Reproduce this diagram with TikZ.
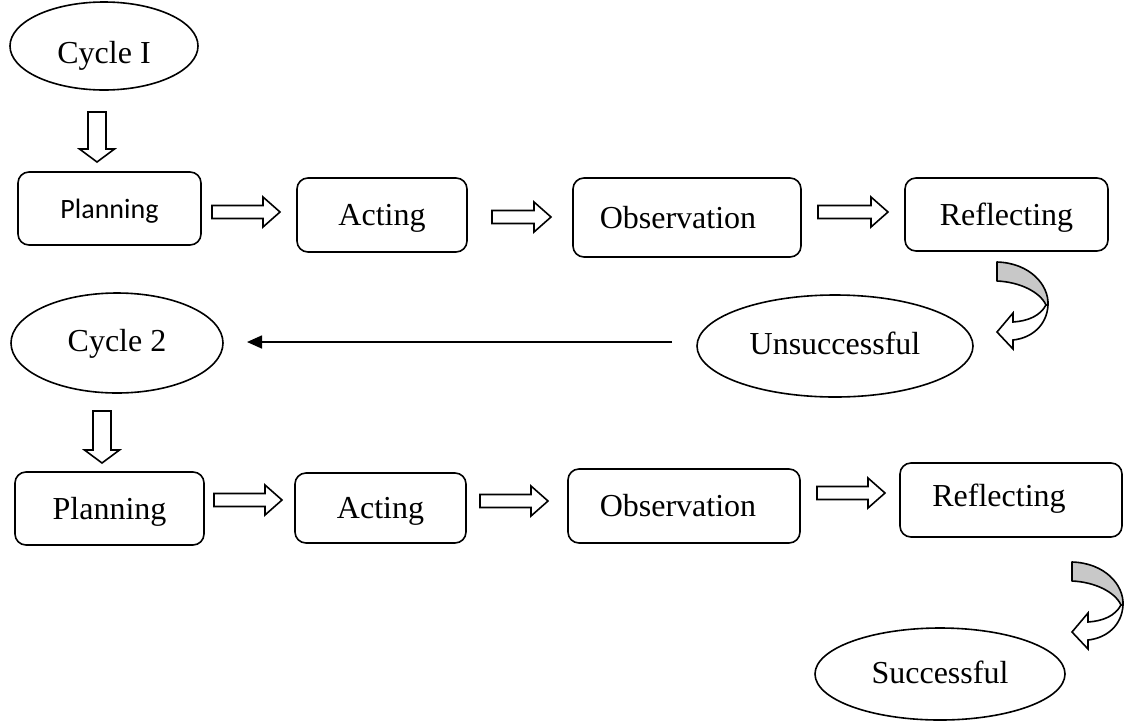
\documentclass[tikz,border=0pt]{standalone}
\usepackage{fontspec}
\setmainfont{Liberation Serif}
\newfontfamily\calfont{Carlito}
\usetikzlibrary{shapes.geometric,arrows.meta}
\definecolor{band}{RGB}{200,200,200}
\newcommand\rblk[3]{\draw[blk] (#1,#3-6.5) -- (#2-17,#3-6.5) -- (#2-17,#3-15) -- (#2,#3) -- (#2-17,#3+15) -- (#2-17,#3+6.5) -- (#1,#3+6.5) -- cycle;}
\newcommand\dblk[3]{\draw[blk] (#1-9,#2) -- (#1+9,#2) -- (#1+9,#3-13) -- (#1+17.5,#3-13) -- (#1,#3) -- (#1-17.5,#3-13) -- (#1-9,#3-13) -- cycle;}
\begin{document}
\begin{tikzpicture}[x=1pt,y=-1pt,
  every node/.style={inner sep=0pt, outer sep=0pt},
  txt/.style={font=\fontsize{32}{38}\selectfont, text depth=0pt, text height=21pt},
  rbox/.style={draw, line width=1.6pt, rounded corners=11pt, txt},
  ell/.style={draw, ellipse, line width=1.6pt, txt},
  blk/.style={draw, line width=1.6pt, fill=white, line join=miter},
  curv/.pic={
    \fill[band, draw=black, line width=1.6pt, line join=round]
      (0,0) .. controls (33,1) and (52,23) .. (51,43) -- (49,43)
      .. controls (43,30) and (23,20) .. (0,19) -- cycle;
    \draw[fill=white, line width=1.6pt, line join=miter]
      (49,43) .. controls (43,54) and (31,59) .. (16,60) -- (16,51) -- (0,70)
      -- (16,87) -- (16,78) .. controls (35,76) and (50,63) .. (51,43) -- cycle;
  }
]
\useasboundingbox (0,0) rectangle (1124,721);

% row 1
\node[ell, minimum width=188pt, minimum height=88pt, text height=34pt] (c1) at (104,46) {Cycle I};
\node[rbox, minimum width=183pt, minimum height=73pt, font=\calfont\fontsize{28}{34}\selectfont, text height=20pt] (p1) at (109.5,208.5) {Planning};
\node[rbox, minimum width=170pt, minimum height=74pt] (a1) at (382,215) {Acting};
\node[rbox, minimum width=228pt, minimum height=79pt] (o1) at (687,217.5) {Observation\kern18pt};
\node[rbox, minimum width=203pt, minimum height=73pt] (r1) at (1006.5,214.5) {Reflecting};

\dblk{97}{112}{162}
\rblk{212}{280}{212}
\rblk{492}{551}{217}
\rblk{818}{888}{212}

% row 2
\node[ell, minimum width=212pt, minimum height=100pt, text height=17pt] (c2) at (117,343) {Cycle 2};
\node[ell, minimum width=276pt, minimum height=102pt, text height=16pt] (u) at (835,346) {Unsuccessful};
\pic at (997,262) {curv};
\coordinate (ls) at (672,342);
\coordinate (le) at (247,342);
\draw[line width=1.6pt, -{Triangle[length=15pt,width=13pt]}] (ls) -- (le);

% row 3
\dblk{102}{411}{463}
\node[rbox, minimum width=189pt, minimum height=73pt] (p2) at (109.5,508.5) {Planning};
\node[rbox, minimum width=171pt, minimum height=70pt] (a2) at (380.5,508) {Acting};
\node[rbox, minimum width=232pt, minimum height=74pt] (o2) at (684,506) {Observation\kern12pt};
\node[rbox, minimum width=222pt, minimum height=74pt, text height=12pt] (r2) at (1011,500) {Reflecting\kern24pt};
\rblk{214}{282}{500}
\rblk{480}{548}{501}
\rblk{817}{885}{493}

% bottom
\pic at (1072,562) {curv};
\node[ell, minimum width=250pt, minimum height=92pt, text height=18pt] (s) at (940,674) {Successful};
\end{tikzpicture}
\end{document}
